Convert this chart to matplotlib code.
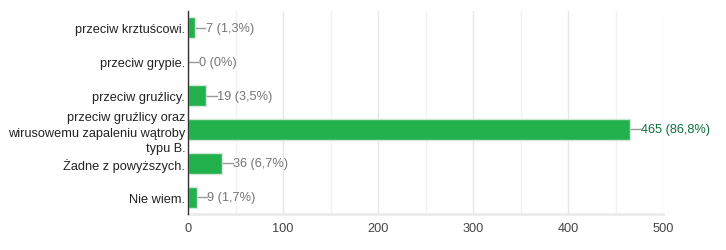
import matplotlib
matplotlib.use("Agg")
import matplotlib.pyplot as plt
from matplotlib.ticker import MultipleLocator

categories = ["przeciw krztuścowi.", "przeciw grypie.", "przeciw gruźlicy.",
              "przeciw gruźlicy oraz\nwirusowemu zapaleniu wątroby\ntypu B.",
              "Żadne z powyższych.", "Nie wiem."]
values = [7, 0, 19, 465, 36, 9]
labels = ["7 (1,3%)", "0 (0%)", "19 (3,5%)", "465 (86,8%)", "36 (6,7%)", "9 (1,7%)"]
xticks = [0, 100, 200, 300, 400, 500]

plt.rcParams['font.family'] = ['Liberation Sans', 'DejaVu Sans']
fig = plt.figure(figsize=(7.26, 2.51), dpi=100)
ax = fig.add_axes([188/726, 1-215/251, 475/726, 203/251])

ypos = list(range(len(categories)))
ax.barh(ypos, values, height=0.62, color='#23b14d', edgecolor='#d0e8d5', linewidth=1, zorder=3)
ax.set_ylim(len(categories)-0.5, -0.5)
ax.set_xlim(0, 500)
ax.set_yticks(ypos)
ax.set_yticklabels(categories, fontsize=9.2, color='#222222', linespacing=1.4)
ax.set_xticks(xticks)
ax.set_xticklabels([str(t) for t in xticks], fontsize=9.2, color='#444444')
ax.xaxis.set_minor_locator(MultipleLocator(50))
ax.grid(axis='x', which='major', color='#e6e6e6', linewidth=1, zorder=0)
ax.grid(axis='x', which='minor', color='#f2f2f2', linewidth=1, zorder=0)
ax.tick_params(axis='both', which='both', length=0)
ax.tick_params(axis='x', pad=6)
ax.tick_params(axis='y', pad=2)
for s in ['top', 'right']:
    ax.spines[s].set_visible(False)
ax.spines['bottom'].set_color('#ebebeb')
ax.spines['bottom'].set_linewidth(2)
ax.spines['left'].set_color('#333333')
ax.spines['left'].set_linewidth(1)
ax.spines['left'].set_zorder(5)

for i, (v, lab) in enumerate(zip(values, labels)):
    big = v == max(values)
    ax.plot([v + 1, v + 11], [i, i], color='#999999', linewidth=1, zorder=4, clip_on=False)
    ax.text(v + 11.5, i, lab, va='center', ha='left', fontsize=9.2,
            color='#0b6e3a' if big else '#757575', clip_on=False)

fig.savefig("out.png", dpi=100)
